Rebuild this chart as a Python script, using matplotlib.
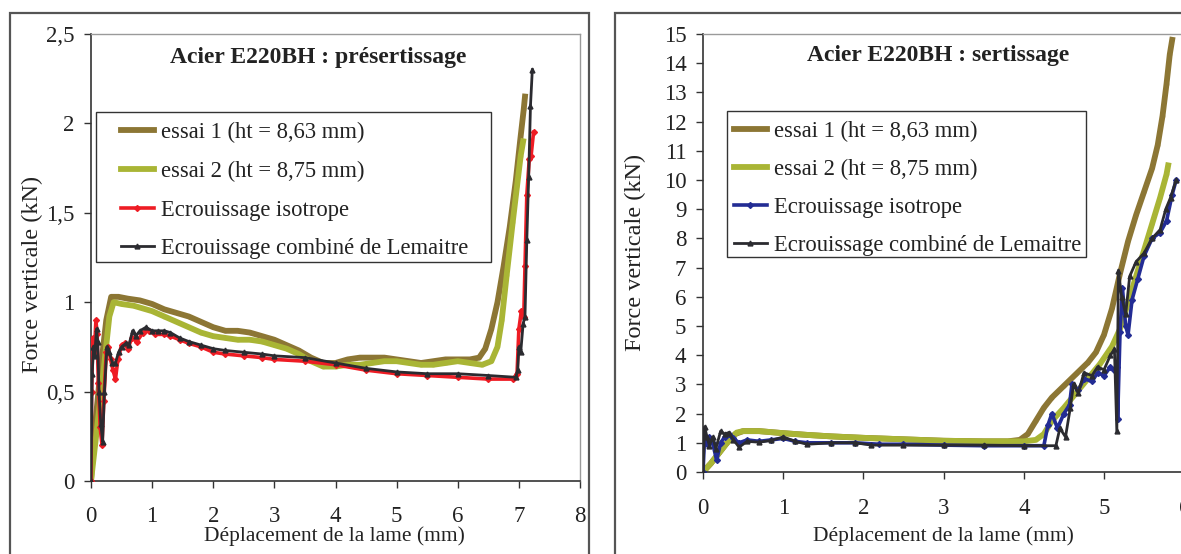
import matplotlib
matplotlib.use('Agg')
import matplotlib.pyplot as plt
import matplotlib.patches as mpatches
from matplotlib.ticker import FuncFormatter, MultipleLocator

plt.rcParams['font.family'] = ['Liberation Serif', 'DejaVu Serif']

W, H = 1181, 554

# ---- presertissage (left) ----
pre_x_essai1 = [0, 0.05, 0.15, 0.25, 0.33, 0.45, 0.6, 0.8, 1.0, 1.2, 1.4, 1.6, 1.8, 2.0, 2.2, 2.4,
                2.6, 2.8, 3.0, 3.2, 3.4, 3.6, 3.8, 4.0, 4.2, 4.4, 4.6, 4.8, 5.0, 5.2, 5.4, 5.6,
                5.8, 6.0, 6.2, 6.35, 6.45, 6.55, 6.65, 6.75, 6.85, 6.95, 7.02, 7.08, 7.1]
pre_y_essai1 = [0, 0.25, 0.6, 0.9, 1.03, 1.03, 1.02, 1.01, 0.99, 0.96, 0.94, 0.92, 0.89, 0.86, 0.84, 0.84,
                0.83, 0.81, 0.79, 0.76, 0.73, 0.69, 0.66, 0.66, 0.68, 0.69, 0.69, 0.69, 0.68, 0.67, 0.66, 0.67,
                0.68, 0.68, 0.68, 0.69, 0.74, 0.85, 1.0, 1.2, 1.42, 1.68, 1.9, 2.08, 2.15]

pre_x_essai2 = [0, 0.1, 0.2, 0.3, 0.37, 0.5, 0.7, 1.0, 1.2, 1.4, 1.6, 1.8, 2.0, 2.2, 2.4, 2.6,
                2.8, 3.0, 3.2, 3.4, 3.6, 3.8, 4.0, 4.2, 4.4, 4.6, 4.8, 5.0, 5.2, 5.4, 5.6, 5.8,
                6.0, 6.2, 6.4, 6.55, 6.65, 6.72, 6.8, 6.9, 6.97, 7.03, 7.07]
pre_y_essai2 = [0, 0.3, 0.6, 0.92, 1.0, 0.99, 0.98, 0.95, 0.92, 0.89, 0.86, 0.83, 0.81, 0.8, 0.79, 0.79,
                0.78, 0.76, 0.74, 0.71, 0.67, 0.64, 0.64, 0.65, 0.65, 0.66, 0.67, 0.67, 0.66, 0.65, 0.65, 0.66,
                0.67, 0.66, 0.65, 0.67, 0.75, 0.9, 1.15, 1.45, 1.65, 1.82, 1.9]

pre_x_iso = [0, 0.01, 0.03, 0.06, 0.08, 0.1, 0.12, 0.15, 0.18, 0.21, 0.25, 0.28, 0.32, 0.36, 0.4, 0.44,
             0.5, 0.55, 0.6, 0.67, 0.75, 0.85, 0.95, 1.05, 1.2, 1.3, 1.45, 1.6, 1.8, 2.0, 2.2, 2.5,
             2.8, 3.0, 3.5, 4.0, 4.5, 5.0, 5.5, 6.0, 6.5, 6.9, 6.97, 7.0, 7.04, 7.08, 7.1, 7.13,
             7.17, 7.2, 7.24]
pre_y_iso = [0, 0.5, 0.8, 0.75, 0.9, 0.82, 0.55, 0.3, 0.2, 0.45, 0.72, 0.75, 0.68, 0.62, 0.57, 0.68,
             0.76, 0.77, 0.74, 0.8, 0.78, 0.83, 0.84, 0.82, 0.82, 0.81, 0.79, 0.77, 0.75, 0.72, 0.71, 0.7,
             0.69, 0.68, 0.67, 0.65, 0.62, 0.6, 0.59, 0.58, 0.57, 0.57, 0.6, 0.85, 0.95, 0.92, 1.2, 1.6,
             1.8, 1.82, 1.95]

pre_x_lem = [0, 0.02, 0.04, 0.06, 0.09, 0.11, 0.13, 0.16, 0.19, 0.22, 0.26, 0.3, 0.35, 0.4, 0.45, 0.5,
             0.57, 0.62, 0.68, 0.73, 0.8, 0.9, 1.0, 1.1, 1.2, 1.3, 1.45, 1.6, 1.8, 2.0, 2.2, 2.5,
             2.8, 3.0, 3.5, 4.0, 4.5, 5.0, 5.5, 6.0, 6.5, 6.95, 6.98, 7.0, 7.03, 7.07, 7.1, 7.13,
             7.16, 7.19, 7.22]
pre_y_lem = [0, 0.6, 0.75, 0.7, 0.85, 0.78, 0.5, 0.32, 0.22, 0.5, 0.75, 0.72, 0.66, 0.66, 0.72, 0.75,
             0.77, 0.76, 0.84, 0.81, 0.84, 0.86, 0.84, 0.84, 0.84, 0.83, 0.8, 0.78, 0.76, 0.74, 0.73, 0.72,
             0.71, 0.7, 0.69, 0.66, 0.63, 0.61, 0.6, 0.6, 0.59, 0.58, 0.62, 0.75, 0.72, 0.88, 0.92, 1.35,
             1.7, 2.1, 2.3]

# ---- sertissage (right) ----
ser_x_essai1 = [0, 0.1, 0.2, 0.3, 0.4, 0.5, 0.7, 1.0, 1.3, 1.6, 2.0, 2.5, 3.0, 3.5, 3.8, 3.95,
                4.05, 4.15, 4.25, 4.35, 4.5, 4.65, 4.8, 4.9, 5.0, 5.1, 5.2, 5.3, 5.4, 5.5, 5.6,
                5.67, 5.73, 5.78, 5.82, 5.85]
ser_y_essai1 = [0, 0.3, 0.65, 1.0, 1.3, 1.4, 1.4, 1.33, 1.27, 1.22, 1.17, 1.12, 1.07, 1.05, 1.05, 1.1,
                1.3, 1.75, 2.2, 2.55, 2.95, 3.35, 3.75, 4.1, 4.7, 5.6, 6.8, 7.9, 8.8, 9.6, 10.4,
                11.2, 12.2, 13.3, 14.3, 14.8]

ser_x_essai2 = [0, 0.1, 0.2, 0.3, 0.42, 0.5, 0.7, 1.0, 1.3, 1.6, 2.0, 2.5, 3.0, 3.5, 4.0, 4.15,
                4.25, 4.35, 4.5, 4.65, 4.8, 4.95, 5.1, 5.2, 5.3, 5.4, 5.5, 5.6, 5.7, 5.78, 5.8]
ser_y_essai2 = [0, 0.3, 0.65, 1.0, 1.35, 1.4, 1.4, 1.33, 1.27, 1.22, 1.17, 1.12, 1.07, 1.05, 1.05, 1.1,
                1.3, 1.75, 2.2, 2.7, 3.2, 3.7, 4.3, 4.9, 5.8, 6.7, 7.6, 8.5, 9.4, 10.2, 10.5]

ser_x_iso = [0, 0.02, 0.05, 0.08, 0.12, 0.17, 0.22, 0.27, 0.32, 0.38, 0.45, 0.55, 0.7, 0.85, 1.0, 1.15,
             1.3, 1.6, 1.9, 2.2, 2.5, 3.0, 3.5, 4.0, 4.25, 4.3, 4.35, 4.42, 4.5, 4.57, 4.6, 4.68,
             4.75, 4.85, 4.92, 5.0, 5.08, 5.13, 5.16, 5.17, 5.2, 5.23, 5.27, 5.3, 5.35, 5.42, 5.5,
             5.6, 5.7, 5.78, 5.85, 5.9]
ser_y_iso = [0, 1.2, 0.95, 1.2, 1.0, 0.4, 1.0, 1.2, 1.3, 1.15, 1.0, 1.1, 1.05, 1.1, 1.15, 1.05,
             1.0, 1.0, 1.0, 0.95, 0.95, 0.92, 0.9, 0.9, 0.9, 1.6, 2.0, 1.5, 2.0, 2.3, 3.0, 2.8,
             3.2, 3.1, 3.4, 3.3, 3.6, 3.5, 3.6, 1.8, 4.8, 6.3, 5.0, 4.7, 5.9, 6.6, 7.4,
             8.0, 8.2, 8.6, 9.5, 10.0]

ser_x_lem = [0, 0.02, 0.05, 0.08, 0.12, 0.16, 0.22, 0.27, 0.32, 0.38, 0.45, 0.55, 0.7, 0.85, 1.0, 1.15,
             1.3, 1.6, 1.9, 2.1, 2.5, 3.0, 3.5, 4.0, 4.4, 4.45, 4.52, 4.58, 4.62, 4.68, 4.75, 4.85,
             4.92, 5.0, 5.08, 5.13, 5.16, 5.18, 5.22, 5.27, 5.32, 5.4, 5.5, 5.6, 5.7, 5.77, 5.83, 5.9]
ser_y_lem = [0, 1.55, 1.2, 0.9, 1.2, 0.8, 1.4, 1.3, 1.35, 1.1, 0.85, 1.05, 1.02, 1.08, 1.2, 1.05,
             0.95, 1.0, 1.0, 0.92, 0.92, 0.92, 0.92, 0.9, 0.9, 1.5, 1.2, 2.2, 3.0, 2.7, 3.4, 3.3,
             3.6, 3.5, 4.0, 4.2, 1.4, 6.9, 6.0, 5.4, 6.7, 7.2, 7.5, 8.0, 8.3, 9.0, 9.4, 10.0]

labels = ['essai 1 (ht = 8,63 mm)', 'essai 2 (ht = 8,75 mm)',
          'Ecrouissage isotrope', 'Ecrouissage combiné de Lemaitre']

C_E1 = '#8c7634'
C_E2 = '#a9b535'
C_RED = '#ee1c24'
C_BLUE = '#232c94'
C_BLK = '#2b2b30'
TXT = '#222222'


def fx(px):
    return px / W


def fy(py):
    return 1 - py / H


def comma(v, pos):
    return f'{v:g}'.replace('.', ',')


def style_axes(ax, xpad):
    for s in ['left', 'bottom']:
        ax.spines[s].set_color('#333333')
        ax.spines[s].set_linewidth(1.2)
    for s in ['top', 'right']:
        ax.spines[s].set_color('#9a9a9a')
        ax.spines[s].set_linewidth(1.0)
    ax.tick_params(axis='both', direction='out', length=5, width=1, colors='#333333',
                   labelsize=16.5, labelcolor=TXT)
    ax.tick_params(axis='x', pad=xpad)
    ax.tick_params(axis='y', pad=7)
    ax.yaxis.set_major_formatter(FuncFormatter(comma))


def legend_box(ax, x0, y0, x1, y1, anchor, spacing):
    ax.add_patch(mpatches.Rectangle((fx(x0), fy(y1)), fx(x1 - x0), fy(y0) - fy(y1),
                                    transform=fig.transFigure, facecolor='white',
                                    edgecolor='#333333', linewidth=1.0, zorder=5, clip_on=False))
    leg = ax.legend(loc='upper left', bbox_to_anchor=(fx(anchor[0]), fy(anchor[1])),
                    bbox_transform=fig.transFigure, frameon=False, fontsize=16.3,
                    handlelength=1.45, handletextpad=0.3, labelspacing=spacing, borderpad=0,
                    borderaxespad=0)
    leg.set_zorder(6)
    for t in leg.get_texts():
        t.set_color(TXT)


fig = plt.figure(figsize=(W / 100, H / 100), dpi=100)

# outer frames
fig.patches.append(mpatches.Rectangle((fx(10), fy(600)), fx(589 - 10), fy(13) - fy(600),
                                      transform=fig.transFigure, fill=False,
                                      edgecolor='#555555', linewidth=1.6))
fig.patches.append(mpatches.Rectangle((fx(615), fy(600)), fx(700), fy(13) - fy(600),
                                      transform=fig.transFigure, fill=False,
                                      edgecolor='#555555', linewidth=1.6))

# left panel
ax1 = fig.add_axes([fx(91), fy(481), fx(580 - 91), fy(34) - fy(481)])
ax1.plot(pre_x_essai1, pre_y_essai1, color=C_E1, lw=4.2, marker='s', ms=2, label=labels[0], zorder=2)
ax1.plot(pre_x_essai2, pre_y_essai2, color=C_E2, lw=4.2, marker='s', ms=2, label=labels[1], zorder=2)
ax1.plot(pre_x_iso, pre_y_iso, color=C_RED, lw=2.6, marker='D', ms=3, label=labels[2], zorder=3)
ax1.plot(pre_x_lem, pre_y_lem, color=C_BLK, lw=2.0, marker='^', ms=3.5, label=labels[3], zorder=4)
ax1.set_xlim(0, 8)
ax1.set_ylim(0, 2.5)
ax1.xaxis.set_major_locator(MultipleLocator(1))
ax1.yaxis.set_major_locator(MultipleLocator(0.5))
style_axes(ax1, 13)
ax1.set_xlabel('Déplacement de la lame (mm)', fontsize=15.5, color=TXT)
ax1.set_ylabel('Force verticale (kN)', fontsize=17.5, color=TXT)
ax1.xaxis.set_label_coords(fx(334), fy(526), transform=fig.transFigure)
ax1.yaxis.set_label_coords(fx(43), fy(274), transform=fig.transFigure)
fig.text(fx(318), fy(57), 'Acier E220BH : présertissage', fontsize=17, fontweight='bold',
         ha='center', va='center', color=TXT)
legend_box(ax1, 96, 112, 491, 262, (121, 122), 0.78)

# right panel
ax2 = fig.add_axes([fx(703), fy(472), fx(80.2 * 7), fy(34) - fy(472)])
ax2.plot(ser_x_essai1, ser_y_essai1, color=C_E1, lw=4.2, marker='s', ms=2, label=labels[0], zorder=2)
ax2.plot(ser_x_essai2, ser_y_essai2, color=C_E2, lw=4.2, marker='s', ms=2, label=labels[1], zorder=2)
ax2.plot(ser_x_iso, ser_y_iso, color=C_BLUE, lw=2.6, marker='D', ms=3, label=labels[2], zorder=3)
ax2.plot(ser_x_lem, ser_y_lem, color=C_BLK, lw=2.0, marker='^', ms=3.5, label=labels[3], zorder=4)
ax2.set_xlim(0, 7)
ax2.set_ylim(0, 15)
ax2.xaxis.set_major_locator(MultipleLocator(1))
ax2.yaxis.set_major_locator(MultipleLocator(1))
style_axes(ax2, 14)
ax2.set_xlabel('Déplacement de la lame (mm)', fontsize=15.5, color=TXT)
ax2.set_ylabel('Force verticale (kN)', fontsize=17.5, color=TXT)
ax2.xaxis.set_label_coords(fx(943), fy(526), transform=fig.transFigure)
ax2.yaxis.set_label_coords(fx(646), fy(252), transform=fig.transFigure)
fig.text(fx(938), fy(55), 'Acier E220BH : sertissage', fontsize=17, fontweight='bold',
         ha='center', va='center', color=TXT)
legend_box(ax2, 727, 111, 1086, 257, (734, 121), 0.74)

fig.savefig('out.png', dpi=100)
